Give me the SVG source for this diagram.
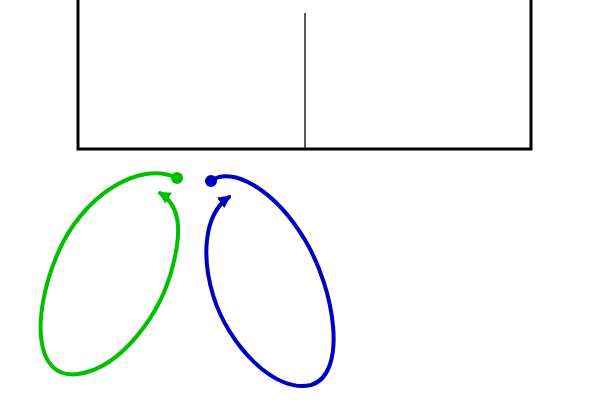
<svg xmlns="http://www.w3.org/2000/svg" width="600" height="400" viewBox="0 0 600 400">
<style>
.box{fill:#fff;stroke:#000;stroke-width:3}
.div{stroke:#000;stroke-width:1.3}
.loop{fill:none;stroke-width:4;stroke-linecap:round}
.g{stroke:#00c000}
.b{stroke:#0000c0}
</style>
<defs>
<marker id="ag" viewBox="0 0 10 10" refX="8" refY="5" markerWidth="3.2" markerHeight="3.2" orient="auto" markerUnits="strokeWidth"><path d="M0,0L10,5L0,10z" fill="#00c000"/></marker>
<marker id="ab" viewBox="0 0 10 10" refX="8" refY="5" markerWidth="3.2" markerHeight="3.2" orient="auto" markerUnits="strokeWidth"><path d="M0,0L10,5L0,10z" fill="#0000c0"/></marker>
</defs>
<g id="frame">
<rect class="box" x="78" y="-10" width="453" height="159"/>
<line class="div" x1="305" y1="13" x2="305" y2="149"/>
</g>
<g id="connectors">
<path class="loop g" d="M177,178 C140,160 82,195 57,255 C32,315 33,380 78,374 C122,368 162,312 173,265 C182,230 180,205 160,193" marker-end="url(#ag)"/>
<circle cx="177" cy="178" r="6" fill="#00c000"/>
<path class="loop b" d="M211,181 C232,165 275,190 305,240 C335,290 348,374 311,385 C275,394 228,345 213,295 C202,258 203,215 229,197" marker-end="url(#ab)"/>
<circle cx="211" cy="181" r="6" fill="#0000c0"/>
</g>
</svg>
